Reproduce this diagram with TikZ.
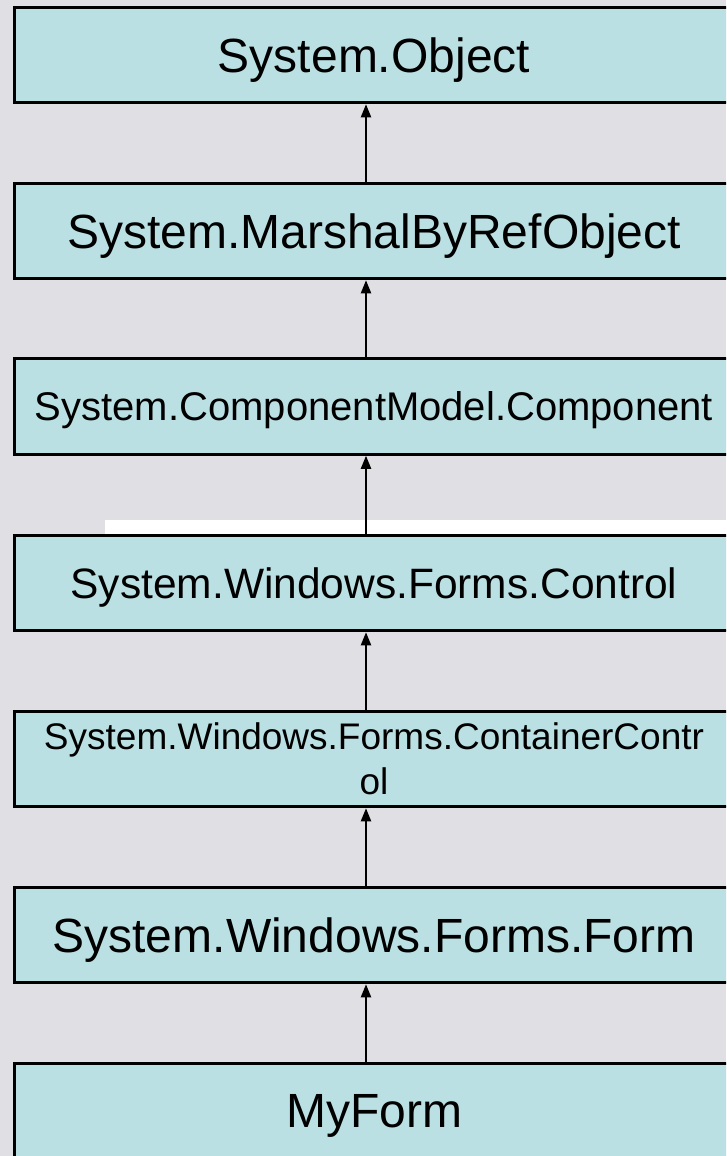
\documentclass[tikz,border=0pt]{standalone}
\usepackage{fontspec}
\setmainfont{Liberation Sans}
\usetikzlibrary{arrows.meta}
\definecolor{bg}{RGB}{224,223,228}
\definecolor{boxfill}{RGB}{187,224,227}
\tikzset{
  classbox/.style={draw=black, line width=3pt, fill=boxfill, rectangle,
    minimum width=720pt, minimum height=95.5pt, inner sep=0pt,
    align=center, text=black},
  oneline/.style={text depth=0pt},
  inherit/.style={line width=2pt, -{Triangle[length=13pt,width=10pt]}},
}
\newcommand{\fs}[1]{\fontsize{#1}{#1}\selectfont}
\begin{document}
\begin{tikzpicture}[x=1pt,y=-1pt]
  \useasboundingbox (0,0) rectangle (726,1156);
  \clip (0,0) rectangle (726,1156);
  \fill[bg] (0,0) rectangle (726,1156);

  % class boxes, top (base) to bottom (derived)
  \node[classbox, oneline, font=\fs{48}] (obj)  at (374,55)    {System.Object};
  \node[classbox, oneline, font=\fs{48}] (mbr)  at (374,231)   {System.MarshalByRefObject};
  \node[classbox, oneline, font=\fs{40}] (comp) at (374,406.5) {System.ComponentModel.Component};
  \fill[white] (105,520) rectangle (740,534);
  \node[classbox, oneline, font=\fs{42.5}] (ctl) at (374,583)  {System.Windows.Forms.Control};
  \node[classbox, font=\fontsize{37}{45}\selectfont] (cc) at (374,759)
    {System.Windows.Forms.ContainerContr\\ol};
  \node[classbox, oneline, font=\fs{48}] (frm)  at (374,935)   {System.Windows.Forms.Form};
  \node[classbox, oneline, font=\fs{48}] (my)   at (374,1111)  {MyForm};

  % inheritance arrows along a common vertical axis
  \coordinate (ax) at (366,0);
  \draw[inherit] (mbr.north -| ax)  -- (obj.south -| ax);
  \draw[inherit] (comp.north -| ax) -- (mbr.south -| ax);
  \draw[inherit] (ctl.north -| ax)  -- (comp.south -| ax);
  \draw[inherit] (cc.north -| ax)   -- (ctl.south -| ax);
  \draw[inherit] (frm.north -| ax)  -- (cc.south -| ax);
  \draw[inherit] (my.north -| ax)   -- (frm.south -| ax);
\end{tikzpicture}
\end{document}
